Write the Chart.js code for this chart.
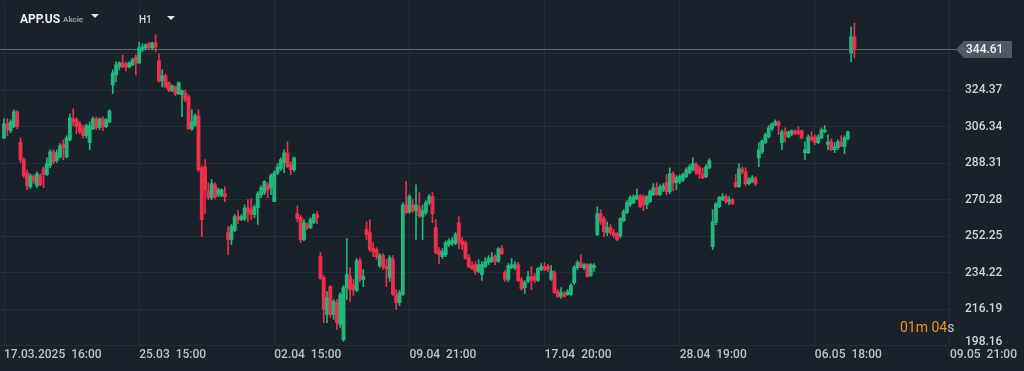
<!DOCTYPE html>
<html>
<head>
<meta charset="utf-8">
<script src="https://cdn.jsdelivr.net/npm/chart.js@4"></script>
<style>
  html, body { margin: 0; padding: 0; background: #19222a; }
  #wrap { width: 1024px; height: 371px; }
</style>
</head>
<body>
<div id="wrap"><canvas id="chart" width="1024" height="371"></canvas></div>
<script>
// APP.US, H1 candles, 17.03.2025 -> 08.05.2025
const open = [
  300.9, 307.8, 304.4, 306.4, 313.8, 298.5, 290.1, 283.6, 276.7, 281.7,
  277.2, 282.2, 285.6, 282.7, 287.1, 294.0, 289.6, 291.5, 297.5, 291.5,
  299.9, 310.3, 309.8, 307.8, 305.4, 301.9, 298.5, 305.4, 310.3, 305.9,
  310.3, 306.4, 308.8, 327.1, 332.0, 336.0, 338.0, 337.5, 336.0, 337.0,
  340.9, 338.0, 344.4, 345.4, 347.4, 345.4, 347.9, 339.0, 329.1, 331.6,
  328.1, 324.1, 326.1, 322.7, 322.2, 323.2, 321.2, 305.4, 307.3, 311.8,
  286.1, 286.6, 274.7, 271.3, 277.7, 272.8, 272.3, 273.3, 254.0, 250.5,
  255.0, 261.9, 260.4, 260.9, 266.3, 265.4, 262.9, 266.3, 272.8, 273.8,
  277.7, 276.2, 269.3, 283.6, 285.6, 288.6, 293.5, 287.6, 285.1, 263.4,
  261.4, 250.5, 258.0, 256.5, 258.9, 262.9, 242.1, 231.8, 213.5, 227.3,
  213.5, 219.4, 208.6, 201.1, 226.8, 232.3, 228.3, 225.4, 240.2, 230.8,
  255.5, 254.0, 246.1, 245.6, 237.7, 242.6, 237.2, 231.8, 240.7, 223.4,
  219.4, 223.4, 267.8, 264.4, 267.8, 264.9, 266.8, 261.9, 263.9, 268.8,
  271.8, 256.5, 245.1, 242.1, 243.1, 248.1, 248.6, 248.6, 258.9, 250.0,
  249.1, 241.6, 237.7, 238.2, 234.8, 233.3, 237.2, 239.2, 239.7, 242.1,
  239.7, 246.1, 234.2, 230.8, 236.7, 236.7, 238.2, 230.8, 226.8, 229.8,
  232.3, 232.3, 230.3, 235.7, 237.2, 237.2, 230.8, 234.2, 224.8, 222.4,
  223.9, 223.4, 223.4, 229.3, 236.7, 239.2, 236.7, 238.2, 232.8, 236.7,
  253.0, 263.4, 260.9, 254.0, 256.5, 254.0, 253.5, 252.5, 259.9, 263.9,
  267.8, 268.8, 270.8, 272.3, 271.8, 267.8, 269.3, 272.8, 276.2, 272.8,
  275.2, 278.7, 274.3, 283.1, 278.7, 279.2, 280.2, 281.7, 283.6, 285.1,
  287.6, 286.1, 283.1, 281.7, 286.1, 247.1, 258.9, 266.8, 270.3, 271.8,
  269.3, 270.3, 278.7, 276.7, 285.6, 284.1, 278.2, 279.2, 280.7, 291.0,
  294.0, 298.5, 301.4, 305.4, 307.3, 308.8, 298.5, 303.9, 301.4, 302.9,
  304.4, 304.4, 304.4, 293.5, 293.5, 301.4, 301.4, 298.5, 300.9, 303.9,
  297.5, 298.9, 295.0, 296.0, 298.9, 296.5, 300.4, 342.9, 350.8
];
const high = [
  310.3, 310.3, 309.8, 314.8, 314.3, 300.9, 291.0, 285.1, 283.1, 282.7,
  284.1, 283.1, 286.6, 291.0, 295.0, 295.0, 295.0, 298.0, 299.9, 301.9,
  312.8, 315.3, 310.8, 308.8, 306.9, 307.8, 308.8, 311.3, 311.3, 310.8,
  311.3, 310.3, 314.8, 334.5, 338.5, 338.5, 341.9, 338.5, 338.5, 340.4,
  341.9, 348.3, 347.4, 347.4, 348.3, 348.3, 351.8, 342.4, 334.5, 332.5,
  328.6, 327.1, 326.6, 328.6, 324.6, 324.6, 322.2, 314.8, 312.8, 314.8,
  287.1, 290.1, 278.7, 280.2, 278.7, 276.2, 275.7, 276.7, 257.0, 258.0,
  262.9, 264.9, 262.9, 267.8, 270.3, 270.8, 267.8, 274.3, 277.2, 279.7,
  278.7, 283.1, 284.6, 288.1, 291.0, 295.0, 298.9, 289.1, 291.5, 267.3,
  262.4, 260.4, 258.9, 261.4, 263.4, 264.4, 244.1, 232.8, 224.8, 227.8,
  220.9, 220.9, 224.4, 227.8, 251.0, 236.7, 230.8, 241.2, 241.6, 235.7,
  259.4, 260.4, 249.1, 246.6, 243.6, 243.6, 240.7, 242.6, 242.6, 225.8,
  225.4, 268.8, 279.2, 272.8, 270.3, 277.7, 273.8, 267.8, 269.8, 272.8,
  273.8, 260.4, 246.6, 246.1, 250.0, 251.0, 251.5, 254.0, 261.9, 251.5,
  250.0, 243.1, 239.7, 239.7, 240.7, 239.7, 241.6, 242.6, 244.1, 243.1,
  246.6, 247.6, 235.2, 238.7, 241.2, 239.7, 239.2, 231.8, 230.3, 234.8,
  237.2, 233.8, 236.7, 238.7, 239.2, 238.2, 237.7, 235.2, 225.8, 226.8,
  224.8, 225.8, 228.8, 237.7, 240.2, 243.1, 238.7, 238.7, 238.7, 238.7,
  266.8, 265.4, 261.9, 259.4, 258.0, 255.5, 254.0, 261.4, 265.4, 269.8,
  272.3, 272.8, 275.7, 272.8, 272.8, 272.3, 275.2, 278.2, 278.7, 277.7,
  278.2, 282.7, 286.1, 284.1, 282.2, 282.7, 283.6, 286.1, 287.6, 291.0,
  288.6, 287.1, 286.1, 287.6, 290.6, 265.4, 268.8, 271.8, 273.3, 272.8,
  271.8, 270.8, 282.7, 288.1, 286.6, 286.1, 281.2, 282.2, 281.7, 298.5,
  299.9, 303.4, 306.9, 308.3, 309.8, 309.3, 304.9, 305.9, 304.4, 304.9,
  304.9, 306.4, 304.9, 298.9, 302.4, 303.9, 302.4, 302.4, 305.9, 306.9,
  302.4, 300.4, 298.5, 299.9, 301.9, 301.9, 304.4, 355.8, 357.7
];
const low = [
  300.4, 301.9, 303.4, 305.9, 305.4, 288.6, 281.2, 275.2, 275.7, 278.2,
  276.2, 277.2, 276.2, 282.2, 286.1, 288.1, 288.6, 291.0, 290.1, 291.0,
  299.4, 306.9, 302.9, 302.9, 300.9, 300.9, 295.0, 304.9, 304.9, 304.9,
  304.4, 305.9, 308.3, 322.7, 328.6, 334.5, 335.5, 334.0, 335.5, 336.5,
  332.0, 337.5, 343.4, 344.4, 344.9, 344.4, 343.4, 328.6, 326.1, 325.6,
  323.7, 323.7, 321.7, 322.2, 311.3, 318.7, 304.9, 304.4, 306.4, 284.1,
  252.0, 263.4, 270.3, 270.3, 270.8, 271.8, 271.8, 269.3, 243.1, 248.1,
  254.5, 258.4, 259.9, 259.9, 259.4, 260.4, 261.4, 258.0, 271.3, 272.8,
  271.3, 272.8, 269.3, 282.7, 284.6, 283.6, 286.1, 282.7, 284.1, 259.4,
  249.1, 250.0, 255.5, 256.0, 258.4, 258.4, 230.8, 209.5, 209.5, 212.0,
  211.0, 206.1, 207.1, 200.2, 220.9, 219.9, 222.9, 224.8, 229.8, 227.3,
  250.5, 244.6, 242.1, 240.7, 236.7, 235.7, 227.3, 229.8, 222.9, 216.0,
  217.9, 222.9, 263.4, 263.4, 263.9, 250.5, 261.4, 250.5, 262.9, 267.8,
  258.9, 243.6, 238.7, 241.2, 242.1, 247.1, 247.6, 248.1, 246.1, 245.6,
  240.7, 236.7, 235.7, 233.3, 234.2, 230.3, 236.7, 238.2, 239.2, 238.2,
  239.2, 243.1, 229.8, 229.8, 236.2, 235.7, 229.8, 225.4, 223.9, 229.3,
  225.8, 229.3, 229.8, 235.2, 235.2, 234.8, 230.3, 223.9, 221.9, 221.4,
  221.9, 222.9, 222.9, 228.3, 235.7, 236.7, 235.7, 231.8, 232.3, 234.8,
  252.5, 258.0, 252.0, 252.5, 253.0, 251.5, 250.0, 251.5, 259.4, 263.4,
  266.8, 268.3, 270.3, 266.3, 264.9, 265.9, 268.8, 272.3, 272.3, 272.3,
  274.3, 272.8, 273.3, 274.7, 275.2, 278.2, 279.2, 281.2, 283.1, 284.6,
  282.7, 280.7, 280.7, 281.2, 285.6, 245.6, 257.9, 266.3, 269.8, 268.3,
  267.8, 267.8, 276.2, 276.2, 283.1, 277.2, 277.7, 278.7, 277.2, 286.6,
  293.0, 298.0, 300.9, 304.4, 306.9, 302.4, 295.0, 298.9, 300.9, 301.9,
  302.4, 302.4, 300.4, 290.1, 293.0, 299.4, 297.5, 298.0, 300.4, 303.4,
  295.0, 294.5, 293.5, 295.0, 296.5, 293.0, 299.9, 338.5, 340.4
];
const close = [
  307.8, 304.9, 308.8, 313.8, 306.4, 290.1, 282.2, 277.2, 282.2, 279.7,
  283.1, 277.7, 282.7, 288.1, 294.0, 289.1, 293.5, 297.0, 296.0, 300.9,
  310.8, 308.8, 306.4, 303.9, 301.9, 306.9, 306.9, 310.3, 305.9, 310.3,
  306.4, 309.8, 314.3, 333.0, 337.0, 338.0, 336.0, 336.0, 338.0, 339.5,
  338.0, 345.4, 345.9, 346.9, 345.4, 347.9, 345.9, 329.1, 331.6, 326.1,
  324.6, 326.6, 322.7, 328.1, 324.1, 319.7, 305.4, 308.8, 311.8, 285.1,
  260.4, 275.2, 271.3, 278.2, 271.8, 275.2, 275.2, 271.8, 250.5, 257.0,
  261.9, 260.4, 261.9, 266.3, 263.9, 262.9, 266.8, 273.3, 276.2, 279.2,
  275.2, 282.2, 283.6, 286.6, 290.1, 293.5, 286.6, 285.1, 291.0, 260.9,
  250.5, 258.9, 256.5, 260.4, 262.9, 261.4, 231.3, 216.0, 221.9, 213.5,
  219.9, 209.5, 223.4, 226.8, 233.3, 225.8, 225.8, 240.2, 230.8, 232.3,
  253.0, 245.6, 244.6, 242.1, 242.6, 237.2, 236.2, 241.6, 223.4, 219.4,
  224.4, 267.8, 263.9, 271.8, 264.9, 267.8, 262.4, 264.9, 268.8, 271.8,
  263.4, 244.1, 243.1, 244.6, 249.1, 250.0, 250.0, 253.0, 249.5, 248.1,
  241.2, 237.2, 236.2, 234.8, 238.2, 238.2, 239.7, 241.2, 241.6, 239.7,
  246.1, 243.6, 230.8, 237.7, 238.2, 238.2, 230.3, 226.3, 229.3, 232.3,
  230.3, 230.3, 236.2, 237.2, 235.7, 235.7, 234.8, 224.4, 222.4, 224.4,
  222.4, 224.8, 227.8, 236.7, 239.2, 237.2, 238.2, 232.3, 238.2, 237.7,
  263.4, 259.4, 254.5, 256.5, 254.0, 252.5, 250.5, 260.9, 264.4, 268.8,
  271.3, 271.8, 272.3, 266.8, 267.8, 271.8, 274.3, 276.2, 272.8, 276.7,
  277.2, 274.3, 283.1, 278.7, 281.2, 281.7, 282.7, 285.1, 286.6, 288.1,
  283.6, 283.1, 281.2, 286.6, 289.6, 259.4, 268.3, 271.3, 271.8, 269.3,
  270.3, 268.3, 276.7, 285.6, 284.1, 278.2, 280.2, 281.2, 278.2, 295.0,
  299.4, 302.4, 305.9, 307.8, 308.8, 306.9, 303.9, 302.4, 303.9, 304.4,
  302.9, 302.9, 300.9, 295.0, 301.4, 299.9, 298.5, 301.4, 304.9, 304.9,
  298.9, 295.0, 296.5, 298.9, 297.0, 300.9, 303.9, 350.8, 344.61
];

// axis labels: one every 41 bars
const xTickPos = [0, 41, 82, 123, 164, 205, 246, 287];
const xTickLabels = ['17.03.2025  16:00', '25.03  15:00', '02.04  15:00', '09.04  21:00',
                     '17.04  20:00', '28.04  19:00', '06.05  18:00', '09.05  21:00'];
const yTicks = [198.16, 216.19, 234.22, 252.25, 270.28, 288.31, 306.34, 324.37, 342.40];
const lastPrice = 344.61;

const UP = '#22b67c';
const DOWN = '#ee2f4b';
const BG = '#19222a';
const GRID = '#242e37';

const bars = open.map((_, i) => i);
const colors = bars.map(i => close[i] >= open[i] ? UP : DOWN);

const overlay = {
  id: 'overlay',
  beforeDraw(chart) {
    const c = chart.ctx;
    c.save();
    c.fillStyle = BG;
    c.fillRect(0, 0, chart.width, chart.height);
    c.restore();
  },
  beforeDatasetsDraw(chart) {
    const c = chart.ctx;
    const y = Math.round(chart.scales.y.getPixelForValue(lastPrice)) + 0.5;
    c.save();
    c.strokeStyle = '#5b6771';
    c.lineWidth = 1;
    c.beginPath();
    c.moveTo(0, y);
    c.lineTo(957, y);
    c.stroke();
    c.restore();
  },
  afterDraw(chart) {
    const c = chart.ctx;
    const ys = chart.scales.y;
    const y = Math.round(ys.getPixelForValue(lastPrice));
    c.save();
    // price tag
    c.fillStyle = '#4d5963';
    c.beginPath();
    c.moveTo(956, y + 0.5);
    c.lineTo(964, y - 8);
    c.lineTo(1012, y - 8);
    c.lineTo(1012, y + 9);
    c.lineTo(964, y + 9);
    c.closePath();
    c.fill();
    c.fillStyle = '#eef0f2';
    c.font = '500 12px Roboto';
    c.textBaseline = 'middle';
    c.textAlign = 'left';
    c.fillText('344.61', 966, y + 1);

    // lowest price label, lifted above the date row
    c.fillStyle = '#cfd4d8';
    c.fillText('198.16', 965, 341.5);

    // header
    c.fillStyle = '#eef0f2';
    c.font = 'bold 12px Roboto';
    c.textBaseline = 'alphabetic';
    c.fillText('APP.US', 20, 23);
    c.fillStyle = '#949da5';
    c.font = 'bold 8px Roboto';
    c.fillText('Akcie', 63, 22);
    c.fillStyle = '#d8dcdf';
    c.font = '500 10px Roboto';
    c.fillText('H1', 139, 23);
    c.fillStyle = '#e4e7ea';
    [[91, 14], [167, 16]].forEach(([tx, ty]) => {
      c.beginPath();
      c.moveTo(tx, ty);
      c.lineTo(tx + 8, ty);
      c.lineTo(tx + 4, ty + 4);
      c.closePath();
      c.fill();
    });

    // countdown
    c.font = '14px Roboto';
    let tx = 900;
    [['01', '#f0951d'], ['m ', '#f0951d'], ['04', '#f0951d'], ['s', '#c3c8cc']].forEach(([t, col]) => {
      c.fillStyle = col;
      c.fillText(t, tx, 332);
      tx += c.measureText(t).width;
    });
    c.restore();
  }
};

new Chart(document.getElementById('chart'), {
  type: 'bar',
  data: {
    datasets: [
      {
        label: 'wick',
        data: bars.map(i => ({ x: i, y: [low[i], high[i]] })),
        backgroundColor: colors,
        barThickness: 1,
        grouped: false,
        order: 2
      },
      {
        label: 'body',
        data: bars.map(i => ({ x: i, y: [open[i], close[i]] })),
        backgroundColor: colors,
        barThickness: 3.2,
        minBarLength: 1,
        grouped: false,
        order: 1
      }
    ]
  },
  options: {
    responsive: false,
    animation: false,
    devicePixelRatio: 1,
    layout: { padding: 0 },
    plugins: { legend: { display: false }, tooltip: { enabled: false } },
    scales: {
      x: {
        type: 'linear',
        min: -1.2136,
        max: 287.31,
        offset: false,
        grid: { color: GRID, drawTicks: false, offset: false },
        border: { display: false },
        afterBuildTicks: s => { s.ticks = xTickPos.map(v => ({ value: v })); },
        afterFit: s => { s.height = 25.5; },
        ticks: {
          align: 'start',
          padding: 2,
          maxRotation: 0,
          autoSkip: false,
          color: '#bcc2c8',
          font: { family: 'Roboto', size: 12, weight: '500' },
          callback: v => xTickLabels[xTickPos.indexOf(v)]
        }
      },
      y: {
        position: 'right',
        min: 198.16,
        max: 368.78,
        grid: { color: GRID, drawTicks: true, tickLength: 14, tickColor: 'rgba(0,0,0,0)' },
        border: { display: false },
        afterBuildTicks: s => { s.ticks = yTicks.map(v => ({ value: v })); },
        afterFit: s => { s.width = 73; },
        ticks: {
          padding: 0,
          color: '#cfd4d8',
          font: ctx => ({ family: 'Roboto', weight: '500', size: ctx.index === yTicks.length - 1 ? 1 : 12 }),
          callback: (v, i) => (i === 0 || i === yTicks.length - 1) ? '' : v.toFixed(2)
        }
      }
    }
  },
  plugins: [overlay]
});
</script>
</body>
</html>
